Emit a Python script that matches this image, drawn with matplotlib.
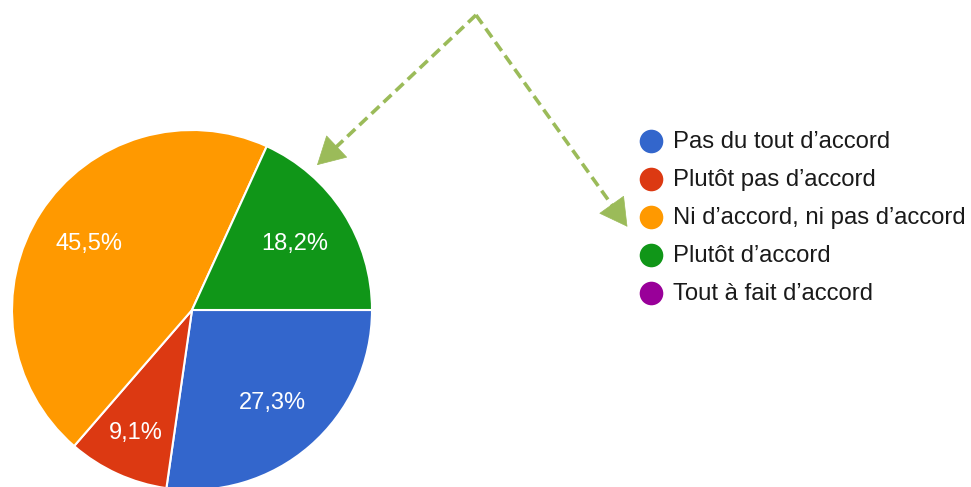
import numpy as np
import matplotlib.pyplot as plt

# survey answers (number of respondents per option)
categories = [
    'Pas du tout d\u2019accord',
    'Plut\u00f4t pas d\u2019accord',
    'Ni d\u2019accord, ni pas d\u2019accord',
    'Plut\u00f4t d\u2019accord',
    'Tout \u00e0 fait d\u2019accord',
]
counts = [3, 1, 5, 2, 0]
colors = ['#3366CC', '#DC3912', '#FF9900', '#109618', '#990099']

W, H = 971, 487
plt.rcParams['font.family'] = ['Liberation Sans', 'DejaVu Sans']

fig = plt.figure(figsize=(W / 100, H / 100), dpi=100)
ax = fig.add_axes([0, 0, 1, 1])


def pct_label(p):
    return f'{p:.1f}%'.replace('.', ',') if p > 0 else ''


shown = [(c, col) for c, col in zip(counts, colors) if c > 0]
cx, cy, r = 192, H - 310, 180
wedges, texts, autotexts = ax.pie(
    [c for c, _ in shown],
    colors=[col for _, col in shown],
    center=(cx, cy),
    radius=r,
    startangle=0,
    counterclock=False,
    autopct=pct_label,
    pctdistance=0.68,
    wedgeprops=dict(edgecolor='white', linewidth=1.5),
    textprops=dict(color='white', fontsize=17),
    frame=True,
)
ax.set_xlim(0, W)
ax.set_ylim(0, H)
ax.set_aspect('equal')
ax.axis('off')

# small slices get their label pushed a bit further out
for w, t, (c, _) in zip(wedges, autotexts, shown):
    if c / sum(counts) < 0.1:
        mid = np.deg2rad((w.theta1 + w.theta2) / 2)
        t.set_position((cx + 0.75 * r * np.cos(mid), cy + 0.75 * r * np.sin(mid)))

# legend
for i, (name, col) in enumerate(zip(categories, colors)):
    y = H - (141 + i * 38.0)
    ax.plot(651, y, 'o', ms=17, color=col, mec='none')
    ax.text(673, y - 1, name, fontsize=17.2, color='#1a1a1a', va='center', ha='left')

# dashed pointer arrows
arrow_col = '#9BBB59'
start = (476, H - 15)
for tip in [(315, H - 167), (629, H - 229)]:
    dx, dy = tip[0] - start[0], tip[1] - start[1]
    back = (tip[0] - dx * 0.07, tip[1] - dy * 0.07)
    ax.plot([start[0], back[0]], [start[1], back[1]], color=arrow_col,
            lw=2.6, dashes=(3.0, 1.6), solid_capstyle='butt')
    ax.annotate('', xy=tip, xytext=back,
                arrowprops=dict(arrowstyle='-|>,head_length=0.9,head_width=0.5',
                                color=arrow_col, lw=0.5, mutation_scale=21))

fig.savefig('out.png', dpi=100)
